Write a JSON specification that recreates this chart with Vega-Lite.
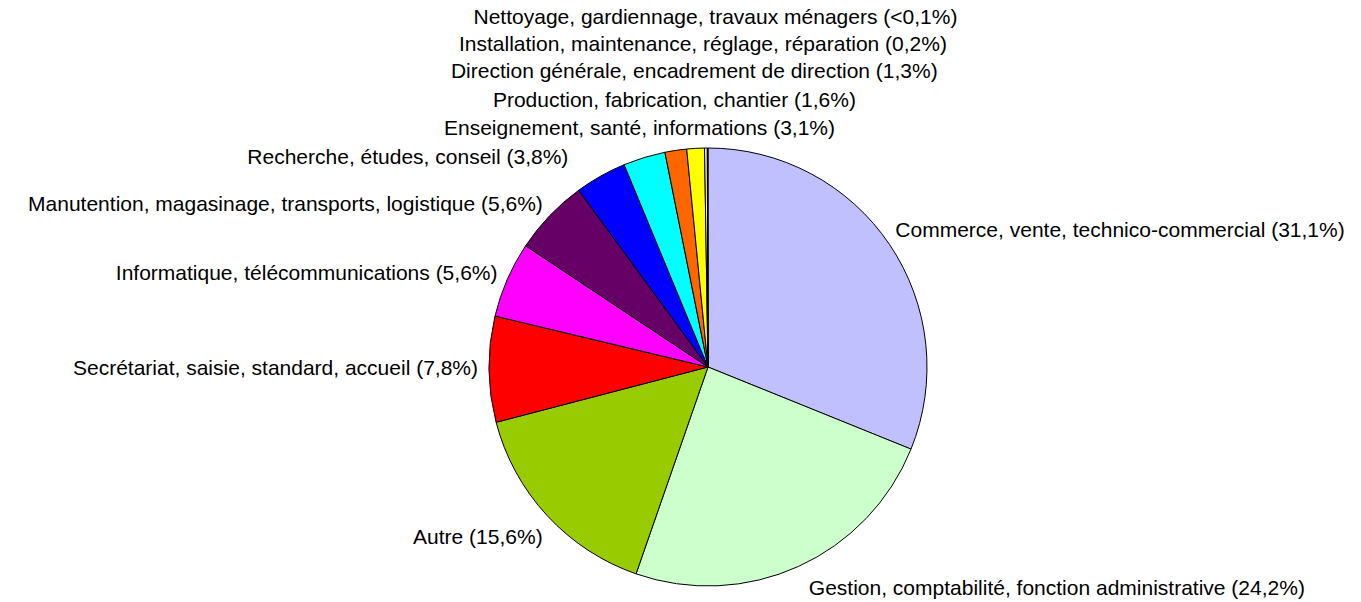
{
  "$schema": "https://vega.github.io/schema/vega-lite/v6.json",
  "width": 438,
  "height": 438,
  "autosize": {"type": "none"},
  "padding": {"left": 489, "top": 148, "right": 434, "bottom": 16},
  "background": "white",
  "config": {"view": {"stroke": null}, "text": {"font": "Liberation Sans", "fontSize": 21, "color": "black"}},
  "data": {
    "values": [
      {"category": "Commerce", "label": "Commerce, vente, technico-commercial (31,1%)", "value": 31.1},
      {"category": "Gestion", "label": "Gestion, comptabilité, fonction administrative (24,2%)", "value": 24.2},
      {"category": "Autre", "label": "Autre (15,6%)", "value": 15.6},
      {"category": "Secrétariat", "label": "Secrétariat, saisie, standard, accueil (7,8%)", "value": 7.8},
      {"category": "Informatique", "label": "Informatique, télécommunications (5,6%)", "value": 5.6},
      {"category": "Manutention", "label": "Manutention, magasinage, transports, logistique (5,6%)", "value": 5.6},
      {"category": "Recherche", "label": "Recherche, études, conseil (3,8%)", "value": 3.8},
      {"category": "Enseignement", "label": "Enseignement, santé, informations (3,1%)", "value": 3.1},
      {"category": "Production", "label": "Production, fabrication, chantier (1,6%)", "value": 1.6},
      {"category": "Direction", "label": "Direction générale, encadrement de direction (1,3%)", "value": 1.3},
      {"category": "Installation", "label": "Installation, maintenance, réglage, réparation (0,2%)", "value": 0.2},
      {"category": "Nettoyage", "label": "Nettoyage, gardiennage, travaux ménagers (<0,1%)", "value": 0.05}
    ]
  },
  "encoding": {
    "theta": {"field": "value", "type": "quantitative", "stack": true},
    "order": {"field": "value", "type": "quantitative", "sort": "descending"}
  },
  "layer": [
    {
      "mark": {"type": "arc", "stroke": "black", "strokeWidth": 1},
      "encoding": {
        "color": {
          "field": "category",
          "type": "nominal",
          "legend": null,
          "scale": {
            "domain": ["Commerce", "Gestion", "Autre", "Secrétariat", "Informatique", "Manutention", "Recherche", "Enseignement", "Production", "Direction", "Installation", "Nettoyage"],
            "range": ["#C0C0FF", "#CCFFCC", "#99CC00", "#FF0000", "#FF00FF", "#660066", "#0000FF", "#00FFFF", "#FF6600", "#FFFF00", "#FFFFCC", "#808080"]
          }
        }
      }
    },
    {
      "mark": {"type": "text", "radius": 234, "dx": 4, "align": "right", "baseline": "middle"},
      "encoding": {"text": {"condition": {"test": "indexof(['Secrétariat','Informatique','Manutention'], datum.category) >= 0", "field": "label"}, "value": ""}}
    },
    {
      "mark": {"type": "text", "radius": 236, "dx": 8, "dy": 11, "align": "right", "baseline": "middle"},
      "encoding": {"text": {"condition": {"test": "datum.category == 'Autre'", "field": "label"}, "value": ""}}
    },
    {
      "mark": {"type": "text", "radius": 240, "dx": -22, "align": "right", "baseline": "middle"},
      "encoding": {"text": {"condition": {"test": "datum.category == 'Recherche'", "field": "label"}, "value": ""}}
    },
    {
      "mark": {"type": "text", "radius": 232, "dx": -5, "dy": -6, "align": "left", "baseline": "middle"},
      "encoding": {"text": {"condition": {"test": "datum.category == 'Commerce'", "field": "label"}, "value": ""}}
    },
    {
      "mark": {"type": "text", "radius": 244, "align": "left", "baseline": "middle"},
      "encoding": {"text": {"condition": {"test": "datum.category == 'Gestion'", "field": "label"}, "value": ""}}
    },
    {
      "mark": {"type": "text", "radius": 249, "dx": 4, "align": "center", "baseline": "middle"},
      "encoding": {"text": {"condition": {"test": "datum.category == 'Enseignement'", "field": "label"}, "value": ""}}
    },
    {
      "mark": {"type": "text", "radius": 269, "dx": 6, "align": "center", "baseline": "middle"},
      "encoding": {"text": {"condition": {"test": "datum.category == 'Production'", "field": "label"}, "value": ""}}
    },
    {
      "mark": {"type": "text", "radius": 295, "dx": 3, "align": "center", "baseline": "middle"},
      "encoding": {"text": {"condition": {"test": "datum.category == 'Direction'", "field": "label"}, "value": ""}}
    },
    {
      "mark": {"type": "text", "radius": 322, "dx": -2, "align": "center", "baseline": "middle"},
      "encoding": {"text": {"condition": {"test": "datum.category == 'Installation'", "field": "label"}, "value": ""}}
    },
    {
      "mark": {"type": "text", "radius": 349, "dx": 8, "align": "center", "baseline": "middle"},
      "encoding": {"text": {"condition": {"test": "datum.category == 'Nettoyage'", "field": "label"}, "value": ""}}
    }
  ]
}
